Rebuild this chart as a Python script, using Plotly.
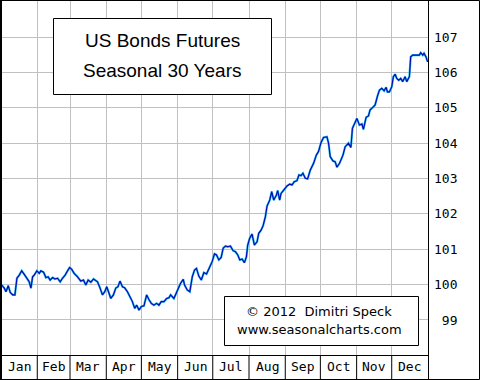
import plotly.graph_objects as go

# ---- data (day of year, seasonal index value) ----
days = [0, 2.8, 4.3, 6.2, 7.9, 10.0, 11.9, 13.6, 15.6, 17.7, 19.9, 22.2, 24.1, 25.6, 27.0, 28.4,
        30.7, 32.7, 34.1, 36.4, 38.4, 40.3, 42.0, 44.1, 46.1, 48.4, 50.6, 52.6, 54.8, 56.9, 58.6,
        60.3, 62.5, 65.4, 68.2, 70.5, 72.5, 74.5, 76.8, 79.1, 82.5, 84.7, 86.7, 88.7, 90.4, 92.4,
        93.8, 96.1, 98.1, 100.0, 101.7, 103.8, 105.7, 108.1, 110.3, 112.3, 114.3, 116.0, 117.9,
        120.0, 122.2, 124.5, 126.5, 128.5, 130.7, 133.0, 135.0, 137.0, 139.3, 141.6, 143.5, 145.0,
        147.8, 150.7, 153.5, 155.8, 156.9, 159.2, 161.4, 163.5, 165.4, 167.1, 169.1, 171.2, 173.4,
        175.7, 178.5, 180.5, 182.5, 184.2, 186.2, 188.2, 189.9, 191.9, 193.8, 196.1, 198.4, 200.4,
        202.4, 204.1, 206.1, 208.1, 209.8, 210.9, 212.6, 214.6, 216.6, 218.9, 220.3, 222.3, 224.0,
        226.0, 227.4, 229.7, 231.4, 233.1, 235.4, 236.5, 238.2, 239.4, 241.6, 244.5, 246.7, 248.8,
        250.7, 253.0, 254.7, 256.4, 258.1, 260.1, 262.1, 264.4, 267.2, 269.5, 271.4, 273.5, 275.7,
        278.6, 280.0, 281.4, 283.7, 285.7, 287.1, 289.4, 292.3, 294.2, 297.0, 299.1, 300.4, 302.7,
        304.2, 306.4, 308.5, 309.8, 312.1, 314.1, 315.5, 317.8, 319.8, 321.8, 323.5, 325.5, 327.5,
        329.2, 330.3, 332.0, 334.0, 335.4, 336.9, 338.3, 340.0, 341.7, 343.4, 345.4, 346.8, 349.1,
        350.2, 351.9, 355.4, 357.6, 358.8, 360.5, 361.6, 363.3, 364.7]
values = [100.01, 99.90, 99.80, 99.97, 99.78, 99.71, 99.71, 100.18, 100.27, 100.39, 100.29, 100.16,
          100.08, 99.90, 100.22, 100.27, 100.39, 100.32, 100.39, 100.35, 100.20, 100.22, 100.13,
          100.20, 100.16, 100.18, 100.08, 100.18, 100.27, 100.39, 100.48, 100.44, 100.32, 100.22,
          100.10, 100.13, 99.99, 100.13, 100.07, 100.16, 100.08, 99.90, 99.71, 99.80, 99.94, 99.75,
          99.61, 99.71, 99.90, 99.94, 100.10, 99.94, 99.91, 99.80, 99.66, 99.52, 99.33, 99.42,
          99.28, 99.38, 99.40, 99.71, 99.57, 99.47, 99.42, 99.47, 99.42, 99.52, 99.52, 99.61,
          99.63, 99.71, 99.61, 99.85, 100.04, 100.15, 99.99, 99.85, 99.80, 100.22, 100.41, 100.46,
          100.24, 100.13, 100.34, 100.30, 100.51, 100.65, 100.87, 100.84, 100.70, 100.77, 101.03,
          101.09, 101.07, 101.09, 100.96, 100.93, 100.84, 100.70, 100.72, 100.62, 100.79, 101.12,
          101.31, 101.43, 101.12, 101.21, 101.45, 101.54, 101.66, 101.92, 102.22, 102.39, 102.63,
          102.39, 102.53, 102.66, 102.39, 102.58, 102.67, 102.79, 102.84, 102.82, 102.91, 102.94,
          103.10, 103.08, 103.15, 103.01, 102.99, 103.24, 103.43, 103.66, 103.76, 104.01, 104.16,
          104.18, 104.00, 103.62, 103.50, 103.47, 103.32, 103.43, 103.66, 103.90, 104.00, 103.88,
          104.42, 104.61, 104.70, 104.51, 104.54, 104.39, 104.73, 104.77, 104.94, 105.01, 105.08,
          105.33, 105.50, 105.55, 105.48, 105.58, 105.45, 105.45, 105.59, 105.88, 105.95, 105.83,
          105.78, 105.83, 105.74, 105.88, 105.74, 105.88, 106.44, 106.49, 106.49, 106.49, 106.56,
          106.49, 106.54, 106.44, 106.30]

month_names = ["Jan", "Feb", "Mar", "Apr", "May", "Jun", "Jul", "Aug", "Sep", "Oct", "Nov", "Dec"]
month_edges = [0, 31, 59, 90, 120, 151, 181, 212, 243, 273, 304, 334, 365]
y_ticks = [99, 100, 101, 102, 103, 104, 105, 106, 107]
y_tick_labels = ["\u00a099", "100", "101", "102", "103", "104", "105", "106", "107"]

title_lines = ["US Bonds Futures", "Seasonal 30 Years"]
credit_lines = ["\u00a9 2012  Dimitri Speck", "www.seasonalcharts.com"]

# ---- layout geometry ----
W, H = 480, 380
L, R, T, B = 1, 52, 1, 25
pw, ph = W - L - R, H - T - B


def px(x):
    return (x - L) / pw


def py(y):
    return (H - B - y) / ph


month_centers = [(a + b) / 2 for a, b in zip(month_edges[:-1], month_edges[1:])]

MONO = "DejaVu Sans Mono"

fig = go.Figure()
fig.add_trace(go.Scatter(x=days, y=values, mode="lines",
                         line=dict(color="#2BB6F0", width=2.2), hoverinfo="skip"))
fig.add_trace(go.Scatter(x=days, y=values, mode="lines",
                         line=dict(color="#0008B0", width=1.1), hoverinfo="skip"))

shapes = []
# outer frame
shapes.append(dict(type="rect", xref="paper", yref="paper",
                   x0=px(0.5), x1=px(479.5), y0=py(0.5), y1=py(379.5),
                   line=dict(color="black", width=1), layer="above"))
shapes.append(dict(type="line", xref="paper", yref="paper",
                   x0=px(1), x1=px(1), y0=py(0), y1=py(380),
                   line=dict(color="black", width=2), layer="above"))
# right edge of plot area
shapes.append(dict(type="line", xref="paper", yref="paper",
                   x0=px(428.5), x1=px(428.5), y0=py(0), y1=py(380),
                   line=dict(color="black", width=1), layer="above"))
# bottom edge of plot area
shapes.append(dict(type="line", xref="paper", yref="paper",
                   x0=px(0), x1=px(428), y0=py(355.5), y1=py(355.5),
                   line=dict(color="black", width=1), layer="above"))
# month separators in the label band
for e in month_edges[1:-1]:
    shapes.append(dict(type="line", xref="x", yref="paper", x0=e, x1=e,
                       y0=py(355), y1=py(379), line=dict(color="black", width=1), layer="above"))
# title box
shapes.append(dict(type="rect", xref="paper", yref="paper",
                   x0=px(53.5), x1=px(271.5), y0=py(18.5), y1=py(94.5),
                   fillcolor="white", line=dict(color="black", width=1), layer="above"))
# credit box
shapes.append(dict(type="rect", xref="paper", yref="paper",
                   x0=px(224.5), x1=px(418.5), y0=py(296.5), y1=py(345.5),
                   fillcolor="white", line=dict(color="black", width=1), layer="above"))

annotations = []
for txt, yy in zip(title_lines, [41, 70]):
    annotations.append(dict(text=txt, xref="paper", yref="paper", x=px(162), y=py(yy),
                            xanchor="center", yanchor="middle", showarrow=False,
                            font=dict(family="Liberation Sans", size=19, color="black")))
for txt, yy in zip(credit_lines, [311, 329]):
    annotations.append(dict(text=txt, xref="paper", yref="paper", x=px(319), y=py(yy),
                            xanchor="center", yanchor="middle", showarrow=False,
                            font=dict(family="DejaVu Sans", size=13, color="black")))
for name, c in zip(month_names, month_centers):
    annotations.append(dict(text=name, xref="x", yref="paper", x=c, y=py(367),
                            xanchor="center", yanchor="middle", showarrow=False,
                            font=dict(family=MONO, size=13, color="black")))

fig.update_layout(
    width=W, height=H,
    margin=dict(l=L, r=R, t=T, b=B, pad=0, autoexpand=False),
    paper_bgcolor="white", plot_bgcolor="white",
    showlegend=False,
    xaxis=dict(range=[0, 365], tickmode="array", tickvals=month_edges,
               showticklabels=False, ticks="", showgrid=True, gridcolor="#C0C0C0",
               gridwidth=1, zeroline=False, showline=False, automargin=False),
    yaxis=dict(range=[98.01, 108.02], side="right", tickmode="array", tickvals=y_ticks,
               ticktext=y_tick_labels, ticks="", showgrid=True, gridcolor="#C0C0C0",
               gridwidth=1, zeroline=False, showline=False, automargin=False,
               tickfont=dict(family=MONO, size=13, color="black"),
               ticklabelstandoff=5),
    shapes=shapes,
    annotations=annotations,
)

fig.write_html("out.html",
               config={"displayModeBar": False, "staticPlot": True},
               post_script="document.body.style.margin='0';document.body.style.padding='0';"
                           "document.body.style.overflow='hidden';")
